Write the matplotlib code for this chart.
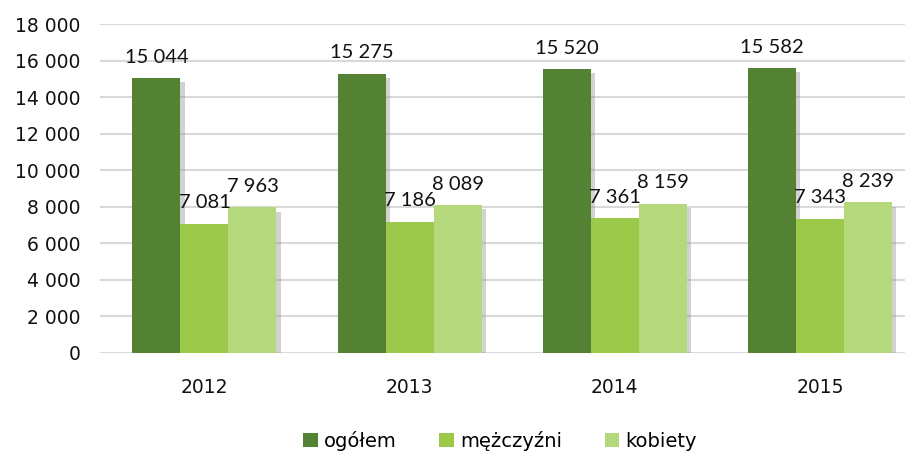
import matplotlib
matplotlib.use("Agg")
import matplotlib.pyplot as plt
import matplotlib.patheffects as pe
from matplotlib.patches import Patch
from matplotlib.ticker import FuncFormatter, MultipleLocator
import numpy as np

years = ["2012", "2013", "2014", "2015"]
series_names = ["ogółem", "mężczyźni", "kobiety"]
ogolem = [15044, 15275, 15520, 15582]
mezczyzni = [7081, 7186, 7361, 7343]
kobiety = [7963, 8089, 8159, 8239]
colors = ["#548235", "#9DC94A", "#B6D87C"]

fig = plt.figure(figsize=(9.11, 4.54), dpi=100)
ax = fig.add_axes([100/911, 1-353/454, 805/911, (353-24)/454])

x = np.arange(len(years))
w = 0.234
shadow = [pe.SimplePatchShadow(offset=(3, -3), shadow_rgbFace="#909090", alpha=0.4), pe.Normal()]
fmt = lambda v: f"{int(v):,}".replace(",", " ")
for i, (vals, c, name) in enumerate(zip([ogolem, mezczyzni, kobiety], colors, series_names)):
    bars = ax.bar(x + (i - 1) * w, vals, width=w, color=c, zorder=3)
    for b in bars:
        b.set_path_effects(shadow)
    ax.bar_label(bars, labels=[fmt(v) for v in vals], padding=9, fontsize=14.5,
                 family="Lato", color="#111111", zorder=5)

ax.set_ylim(0, 18000)
ax.set_xlim(-0.509, 3.414)
ax.yaxis.set_major_locator(MultipleLocator(2000))
ax.yaxis.set_major_formatter(FuncFormatter(lambda v, p: fmt(v)))
ax.set_xticks(x)
ax.set_xticklabels(years)
ax.grid(axis="y", color="#D9D9D9", linewidth=1.5, zorder=0)
ax.set_axisbelow(True)
for s in ax.spines.values():
    s.set_visible(False)
ax.tick_params(axis="both", length=0, labelsize=13.5, colors="#111111")
ax.tick_params(axis="y", pad=14)
ax.tick_params(axis="x", pad=18)

handles = [Patch(facecolor=c, label=n) for c, n in zip(colors, series_names)]
leg = fig.legend(handles=handles, loc="center", bbox_to_anchor=(500/911, 1-441/454), ncol=3,
                 frameon=False, fontsize=14, handlelength=0.75, handleheight=0.75,
                 handletextpad=0.3, columnspacing=2.2)
fig.savefig("out.png", dpi=100)
